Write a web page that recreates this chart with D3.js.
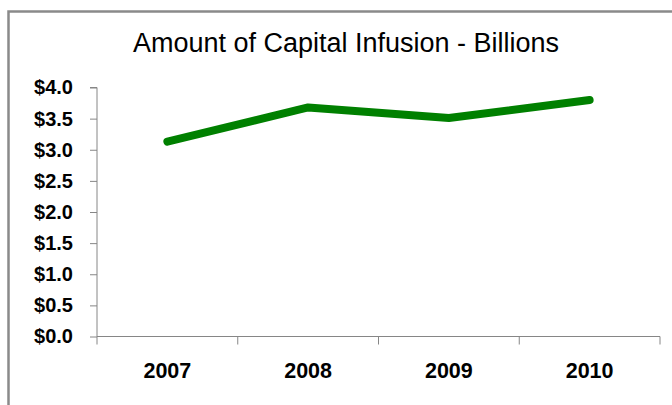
<!DOCTYPE html>
<html>
<head>
<meta charset="utf-8">
<script src="https://cdn.jsdelivr.net/npm/d3@7"></script>
<style>
  body { margin: 0; background: #fff; }
  svg { display: block; font-family: "Liberation Sans", Arial, sans-serif; }
</style>
</head>
<body>
<svg id="svg" width="672" height="405"></svg>
<script>
const w = 672;
const h = 405;

const years = ["2007", "2008", "2009", "2010"];
const capital = [3.13, 3.68, 3.51, 3.80];
const yTicks = [0, 0.5, 1, 1.5, 2, 2.5, 3, 3.5, 4];
const title = "Amount of Capital Infusion - Billions";

const plotLeft = 97, plotRight = 660, plotTop = 87.5, plotBottom = 336.5;

let svg = d3.select("#svg");

svg.append("rect").attr("width", w).attr("height", h).attr("fill", "#fff");

// outer frame (runs off the right and bottom edges)
svg
  .append("rect")
  .attr("x", 8.5)
  .attr("y", 11.5)
  .attr("width", w + 20)
  .attr("height", h + 20)
  .attr("fill", "none")
  .attr("stroke", "#8a8a8a")
  .attr("stroke-width", 2.5);

svg
  .append("text")
  .attr("x", 346)
  .attr("y", 52)
  .attr("text-anchor", "middle")
  .attr("font-size", 27)
  .attr("fill", "#000")
  .text(title);

let xScale = d3.scaleBand(years, [plotLeft, plotRight]);
let yScale = d3.scaleLinear([0, 4], [plotBottom, plotTop]);

// y axis
let yAxis = svg
  .append("g")
  .attr("transform", `translate(${plotLeft},0)`)
  .call(
    d3.axisLeft(yScale)
      .tickValues(yTicks)
      .tickSize(7)
      .tickPadding(17)
      .tickFormat((d) => "$" + d3.format(".1f")(d))
  );
yAxis.select(".domain").attr("stroke", "#868686").attr("d", `M-7,${plotTop}H0V${plotBottom + 8}`);
yAxis.selectAll(".tick line").attr("stroke", "#868686");
yAxis
  .selectAll(".tick text")
  .attr("font-family", "Liberation Sans, Arial, sans-serif")
  .attr("font-size", 20)
  .attr("font-weight", "bold")
  .attr("fill", "#000");

// x axis: ticks between categories
let xAxis = svg.append("g").attr("transform", `translate(0,${plotBottom})`);
xAxis
  .append("path")
  .attr("stroke", "#868686")
  .attr("fill", "none")
  .attr("d", `M${plotLeft},0H${plotRight}`);
xAxis
  .selectAll("line")
  .data(years.slice(1).concat(["end"]))
  .join("line")
  .attr("x1", (d, i) => (i < years.length - 1 ? xScale(d) : plotRight))
  .attr("x2", (d, i) => (i < years.length - 1 ? xScale(d) : plotRight))
  .attr("y1", 0)
  .attr("y2", 8)
  .attr("stroke", "#868686");
xAxis
  .selectAll("text")
  .data(years)
  .join("text")
  .attr("x", (d) => xScale(d) + xScale.bandwidth() / 2)
  .attr("y", 378 - plotBottom)
  .attr("text-anchor", "middle")
  .attr("font-size", 21.5)
  .attr("font-weight", "bold")
  .attr("fill", "#000")
  .text((d) => d);

let lineFunc = d3
  .line()
  .x((d, i) => xScale(years[i]) + xScale.bandwidth() / 2)
  .y((d) => yScale(d));

svg
  .append("path")
  .datum(capital)
  .attr("fill", "none")
  .attr("stroke", "#008000")
  .attr("stroke-width", 8)
  .attr("stroke-linecap", "round")
  .attr("stroke-linejoin", "round")
  .attr("d", lineFunc);
</script>
</body>
</html>
